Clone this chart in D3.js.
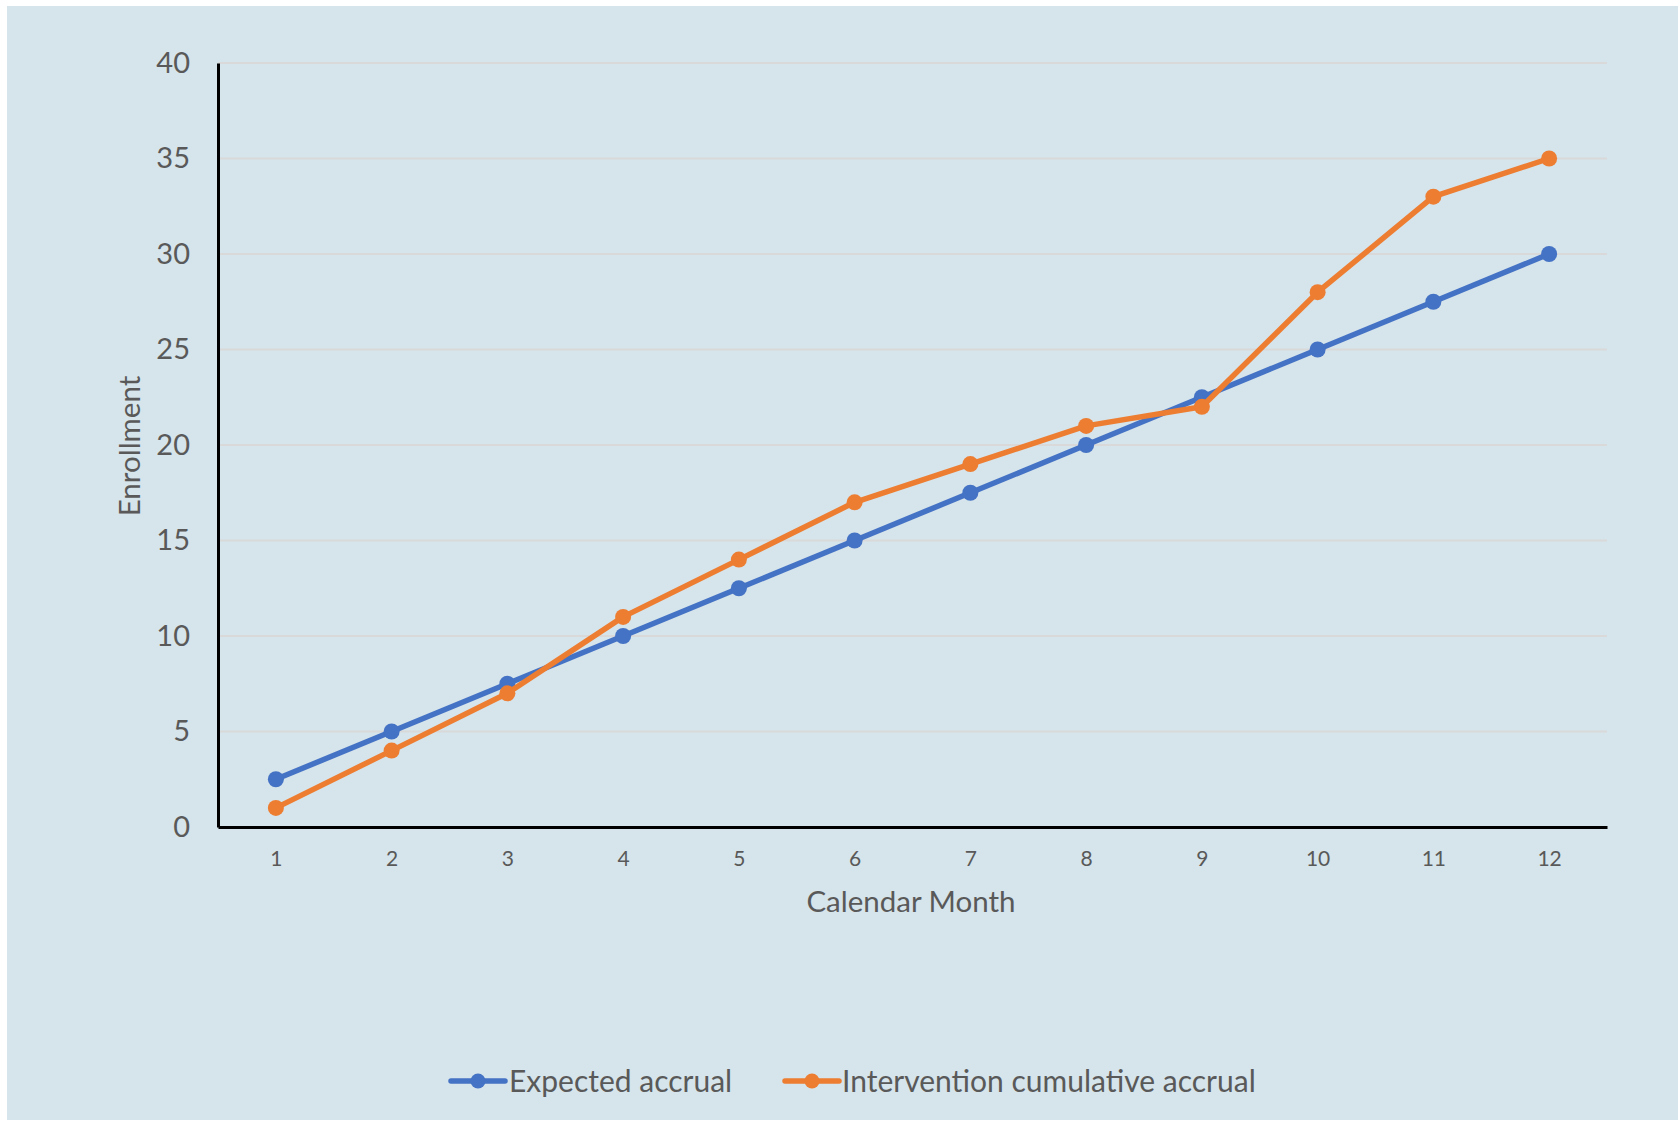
<!DOCTYPE html>
<html>
<head>
<meta charset="utf-8">
<script src="https://cdn.jsdelivr.net/npm/d3@7"></script>
<style>
  html, body { margin: 0; padding: 0; background: #ffffff; }
  svg { display: block; font-family: Lato, "Open Sans", sans-serif; }
</style>
</head>
<body>
<div id="chart"></div>
<script>
const months = [1, 2, 3, 4, 5, 6, 7, 8, 9, 10, 11, 12];
const expectedAccrual = [2.5, 5, 7.5, 10, 12.5, 15, 17.5, 20, 22.5, 25, 27.5, 30];
const interventionAccrual = [1, 4, 7, 11, 14, 17, 19, 21, 22, 28, 33, 35];
const yTicks = [0, 5, 10, 15, 20, 25, 30, 35, 40];
const seriesNames = ["Expected accrual", "Intervention cumulative accrual"];
const seriesColors = ["#4472c4", "#ed7d31"];

const width = 1678;
const height = 1121;
const margin = { top: 63, right: 71, bottom: 294, left: 218 };

const svg = d3.select("#chart")
  .append("svg")
  .attr("width", width)
  .attr("height", height);

// panel background with thin white edge top/left
svg.append("rect")
  .attr("x", 7)
  .attr("y", 6)
  .attr("width", width - 7)
  .attr("height", height - 7)
  .attr("fill", "#d6e4eb");

const innerWidth = width - margin.left - margin.right;
const innerHeight = height - margin.top - margin.bottom;

const g = svg.append("g")
  .attr("transform", "translate(" + margin.left + "," + margin.top + ")");

const x = d3.scalePoint()
  .domain(months)
  .range([0, innerWidth])
  .padding(0.5);

const y = d3.scaleLinear()
  .domain([0, 40])
  .range([innerHeight, 0]);

// gridlines
g.append("g")
  .selectAll("line")
  .data(yTicks.filter((d) => d > 0))
  .join("line")
  .attr("x1", 0)
  .attr("x2", innerWidth)
  .attr("y1", (d) => y(d))
  .attr("y2", (d) => y(d))
  .attr("stroke", "#d9d9d9")
  .attr("stroke-width", 2);

// y axis
const yAxis = g.append("g")
  .call(d3.axisLeft(y).tickValues(yTicks).tickSize(0).tickPadding(28));
yAxis.select(".domain").attr("stroke", "#000").attr("stroke-width", 3);
yAxis.selectAll("text")
  .attr("fill", "#595959")
  .style("font-size", "29px")
  .style("font-family", "Lato, sans-serif");

// x axis
const xAxis = g.append("g")
  .attr("transform", "translate(0," + innerHeight + ")")
  .call(d3.axisBottom(x).tickSize(0).tickPadding(24));
xAxis.select(".domain").attr("stroke", "#000").attr("stroke-width", 3);
xAxis.selectAll("text")
  .attr("fill", "#595959")
  .style("font-size", "21px")
  .style("font-family", "Lato, sans-serif");

// axis titles
svg.append("text")
  .attr("x", 911)
  .attr("y", 902)
  .attr("dy", "0.35em")
  .attr("text-anchor", "middle")
  .attr("fill", "#595959")
  .style("font-size", "29.5px")
  .text("Calendar Month");

svg.append("text")
  .attr("transform", "translate(130,446) rotate(-90)")
  .attr("dy", "0.35em")
  .attr("text-anchor", "middle")
  .attr("fill", "#595959")
  .style("font-size", "29.5px")
  .text("Enrollment");

// series
const series = [expectedAccrual, interventionAccrual];
const line = d3.line()
  .x((d, i) => x(months[i]))
  .y((d) => y(d));

series.forEach((values, s) => {
  g.append("path")
    .datum(values)
    .attr("fill", "none")
    .attr("stroke", seriesColors[s])
    .attr("stroke-width", 5.5)
    .attr("stroke-linejoin", "round")
    .attr("d", line);

  g.append("g")
    .selectAll("circle")
    .data(values)
    .join("circle")
    .attr("cx", (d, i) => x(months[i]))
    .attr("cy", (d) => y(d))
    .attr("r", 8)
    .attr("fill", seriesColors[s]);
});

// legend
const legendItems = [
  { x0: 451, tx: 509 },
  { x0: 785, tx: 842 }
];
const legend = svg.append("g").attr("transform", "translate(0,1081)");
legendItems.forEach((it, i) => {
  legend.append("line")
    .attr("x1", it.x0)
    .attr("x2", it.x0 + 54)
    .attr("stroke", seriesColors[i])
    .attr("stroke-width", 5.5)
    .attr("stroke-linecap", "round");
  legend.append("circle")
    .attr("cx", it.x0 + 27)
    .attr("r", 7.5)
    .attr("fill", seriesColors[i]);
  legend.append("text")
    .attr("x", it.tx)
    .attr("dy", "0.35em")
    .attr("fill", "#595959")
    .style("font-size", "30px")
    .text(seriesNames[i]);
});
</script>
</body>
</html>
